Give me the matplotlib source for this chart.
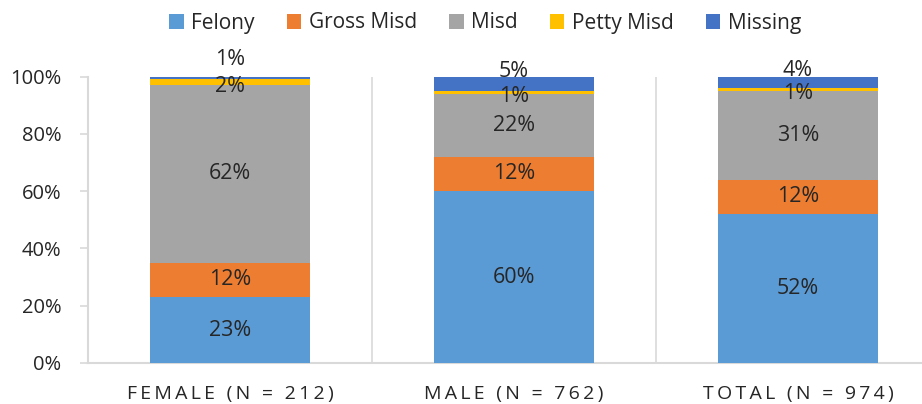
import numpy as np
import matplotlib
matplotlib.use("Agg")
import matplotlib.pyplot as plt
from matplotlib.patches import Patch

# data (percent of each group)
groups = ["FEMALE (N = 212)", "MALE (N = 762)", "TOTAL (N = 974)"]
series = ["Felony", "Gross Misd", "Misd", "Petty Misd", "Missing"]
felony = [23, 60, 52]
gross_misd = [12, 12, 12]
misd = [62, 22, 31]
petty_misd = [2, 1, 1]
missing = [1, 5, 4]

colors = ["#5B9BD5", "#ED7D31", "#A5A5A5", "#FFC000", "#4472C4"]
text_color = "#262626"
grid_color = "#D9D9D9"

# small segments: labels were nudged off-center to avoid overlap
label_shift = {
    "Petty Misd": [-1.5, -1.5, -1.3],
    "Missing": [6.3, 4.2, 4.1],
}

plt.rcParams["font.family"] = ["Open Sans", "DejaVu Sans"]

fig = plt.figure(figsize=(9.22, 4.04), dpi=100)
ax = fig.add_axes([88 / 922, 41 / 404, (940 - 88) / 922, 286.5 / 404])

x = np.arange(len(groups))
values = [felony, gross_misd, misd, petty_misd, missing]
bottom = np.zeros(len(groups))
for name, vals, col in zip(series, values, colors):
    vals = np.array(vals, dtype=float)
    ax.bar(x, vals, 0.56, bottom=bottom, color=col, zorder=3)
    shifts = label_shift.get(name, [0, 0, 0])
    for i in range(len(groups)):
        yc = bottom[i] + vals[i] / 2 + shifts[i]
        ax.text(x[i], yc, f"{vals[i]:.0f}%", ha="center", va="center",
                fontsize=15.5, color=text_color, zorder=4, clip_on=False)
    bottom += vals

ax.set_xlim(-0.5, len(groups) - 0.5)
ax.set_ylim(0, 100)
ax.set_yticks(np.arange(0, 101, 20))
ax.set_yticklabels([f"{v}%" for v in range(0, 101, 20)])

for sep in [0.5, 1.5, 2.5]:
    ax.axvline(sep, color=grid_color, lw=1.2, zorder=1)

spaced = ["\u2009".join(g) for g in groups]
ax.set_xticks(x)
ax.set_xticklabels(spaced, fontsize=14, color=text_color)
ax.tick_params(axis="x", length=0, pad=16)
ax.tick_params(axis="y", direction="out", length=6, width=1.2, color=grid_color,
               labelsize=14.5, labelcolor=text_color, pad=13)

for side in ["top", "right"]:
    ax.spines[side].set_visible(False)
for side in ["left", "bottom"]:
    ax.spines[side].set_color(grid_color)
    ax.spines[side].set_linewidth(1.5)

handles = [Patch(facecolor=c, edgecolor="none") for c in colors]
fig.legend(handles, series, loc="center", bbox_to_anchor=(485 / 922, 1 - 23 / 404),
           ncol=5, frameon=False, fontsize=15, handlelength=0.7, handleheight=0.7,
           handletextpad=0.35, columnspacing=1.55, labelcolor=text_color)

fig.savefig("out.png", dpi=100)
